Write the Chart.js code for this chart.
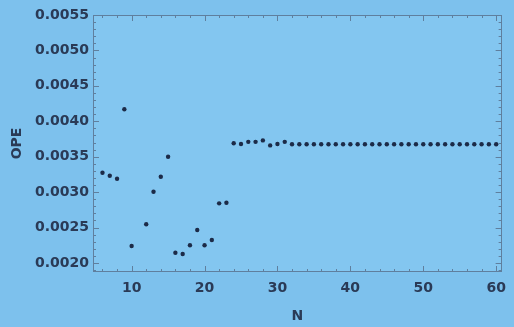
<!DOCTYPE html>
<html>
<head>
<meta charset="utf-8">
<script src="https://cdn.jsdelivr.net/npm/chart.js@4.4.0/dist/chart.umd.min.js"></script>
<style>
html,body{margin:0;padding:0;background:#7dc1ed;}
</style>
</head>
<body>
<canvas id="myChart" width="514" height="327"></canvas>
<script>
// datos
const nValores = [6,7,8,9,10,12,13,14,15,16,17,18,19,20,21,22,23,24,25,26,27,28,29,30,31,32,33,34,35,36,37,38,39,40,41,42,43,44,45,46,47,48,49,50,51,52,53,54,55,56,57,58,59,60];
const opeValores = [0.003274,0.003232,0.003190,0.004169,0.002240,0.002546,0.003006,0.003218,0.003500,0.002145,0.002127,0.002250,0.002466,0.002250,0.002325,0.002842,0.002851,
    0.00369,0.00368,0.00371,0.00371,0.00373,0.00366,0.00368,0.00371,
    0.003675,0.003675,0.003675,0.003675,0.003675,0.003675,0.003675,0.003675,0.003675,0.003675,
    0.003675,0.003675,0.003675,0.003675,0.003675,0.003675,0.003675,0.003675,0.003675,0.003675,
    0.003675,0.003675,0.003675,0.003675,0.003675,0.003675,0.003675,0.003675,0.003675];
const ticksX = [10,20,30,40,50,60];
const ticksY = [0.0020,0.0025,0.0030,0.0035,0.0040,0.0045,0.0050,0.0055];

const colorTexto = '#2a3a56';
const fuente = {family: 'DejaVu Sans', size: 14, weight: 'bold'};

// marco con marcas hacia dentro, estilo Mathematica
const marco = {
    id: 'marco',
    beforeDraw(chart){
        const {ctx, chartArea: a} = chart;
        ctx.save();
        ctx.fillStyle = '#7dc1ed';
        ctx.fillRect(0, 0, chart.width, chart.height);
        ctx.fillStyle = '#83c6f0';
        ctx.fillRect(a.left, a.top, a.right - a.left, a.bottom - a.top);
        ctx.restore();
    },
    beforeDatasetsDraw(chart){
        const {ctx, chartArea: a, scales} = chart;
        const sx = scales.x, sy = scales.y;
        ctx.save();
        ctx.strokeStyle = '#5f7f9e';
        ctx.lineWidth = 1;
        ctx.strokeRect(Math.round(a.left) + 0.5, Math.round(a.top) + 0.5, Math.round(a.right - a.left) - 1, Math.round(a.bottom - a.top) - 1);
        ctx.beginPath();
        for(let v = 6; v <= 60; v += 2){
            const px = Math.round(sx.getPixelForValue(v)) + 0.5;
            const largo = (v % 10 === 0) ? 6 : 3;
            ctx.moveTo(px, a.bottom); ctx.lineTo(px, a.bottom - largo);
            ctx.moveTo(px, a.top); ctx.lineTo(px, a.top + largo);
        }
        for(let i = 19; i <= 55; i++){
            const v = i / 10000;
            const py = Math.round(sy.getPixelForValue(v)) + 0.5;
            const largo = (i % 5 === 0) ? 6 : 3;
            ctx.moveTo(a.left, py); ctx.lineTo(a.left + largo, py);
            ctx.moveTo(a.right, py); ctx.lineTo(a.right - largo, py);
        }
        ctx.stroke();
        ctx.restore();
    }
};

const ctx = document.getElementById('myChart').getContext('2d');
const myChart = new Chart(ctx, {
    type: 'scatter',
    data: {
        datasets: [{
            label: 'OPE',
            data: nValores.map((n, i) => ({x: n, y: opeValores[i]})),
            backgroundColor: '#1c2b48',
            borderColor: '#1c2b48',
            pointRadius: 2.2,
            pointBorderWidth: 0
        }]
    },
    options: {
        responsive: false,
        animation: false,
        layout: {padding: {top: 15, right: 7, left: 0, bottom: 0}},
        plugins: {legend: {display: false}, tooltip: {enabled: false}},
        scales: {
            x: {
                type: 'linear',
                min: 4.7,
                max: 60.75,
                afterBuildTicks: (s) => { s.ticks = ticksX.map(v => ({value: v})); },
                afterFit: (s) => { s.height = 55; },
                grid: {display: false, drawTicks: false},
                border: {display: false},
                ticks: {color: colorTexto, font: fuente, padding: 8, maxRotation: 0},
                title: {display: true, text: 'N', color: colorTexto, font: fuente, padding: {top: 0, bottom: 2}}
            },
            y: {
                type: 'linear',
                min: 0.001873,
                max: 0.0055,
                afterBuildTicks: (s) => { s.ticks = ticksY.map(v => ({value: v})); },
                afterFit: (s) => { s.width = 93; },
                grid: {display: false, drawTicks: false},
                border: {display: false},
                ticks: {color: colorTexto, font: fuente, padding: 4, callback: (v) => Number(v).toFixed(4)},
                title: {display: true, text: 'OPE', color: colorTexto, font: fuente, padding: {top: 9, bottom: 0}}
            }
        }
    },
    plugins: [marco]
});
</script>
</body>
</html>
